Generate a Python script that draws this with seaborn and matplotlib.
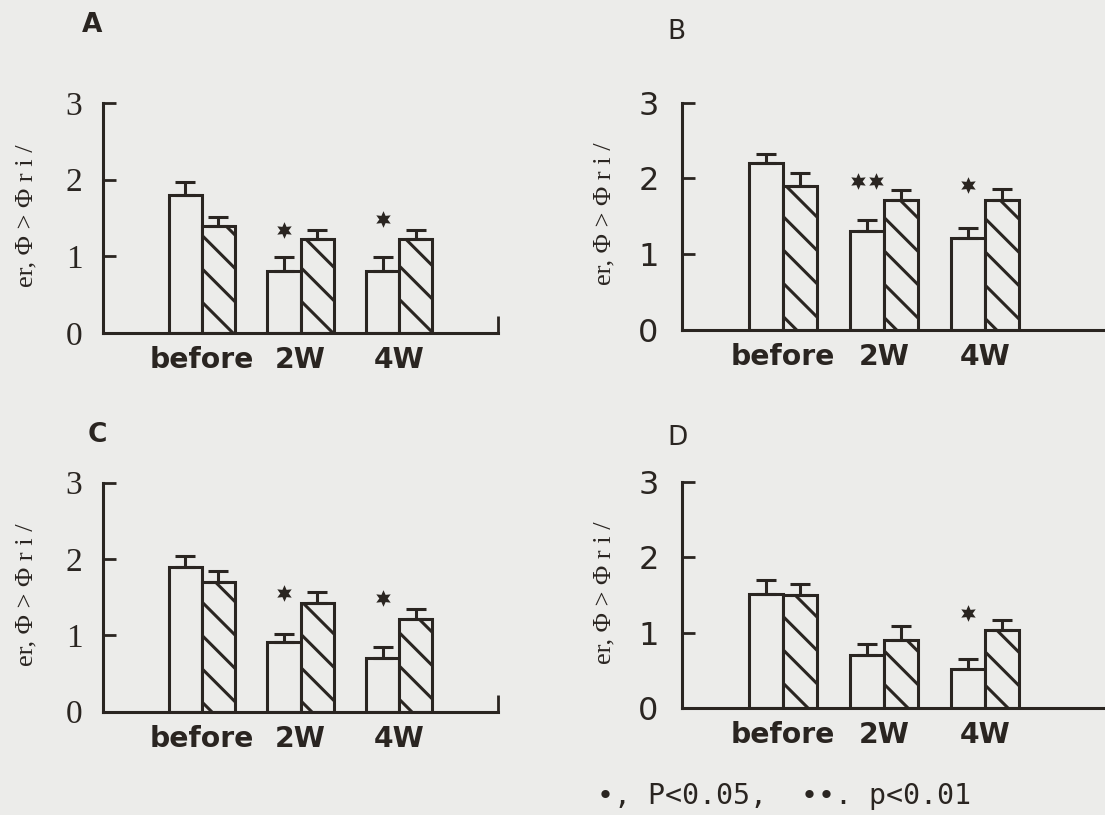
import numpy as np
import pandas as pd
import seaborn as sns
import matplotlib.pyplot as plt

# values
times = ["before", "2W", "4W"]
groups = ["group 1", "group 2"]          # open bars, hatched bars

mean_A1 = [1.80, 0.81, 0.81]
mean_A2 = [1.40, 1.22, 1.23]
err_A1 = [0.17, 0.18, 0.18]
err_A2 = [0.11, 0.12, 0.12]

mean_B1 = [2.20, 1.30, 1.21]
mean_B2 = [1.90, 1.71, 1.72]
err_B1 = [0.12, 0.15, 0.13]
err_B2 = [0.17, 0.14, 0.14]

mean_C1 = [1.90, 0.91, 0.71]
mean_C2 = [1.70, 1.42, 1.22]
err_C1 = [0.14, 0.11, 0.14]
err_C2 = [0.14, 0.15, 0.13]

mean_D1 = [1.52, 0.71, 0.52]
mean_D2 = [1.50, 0.90, 1.04]
err_D1 = [0.18, 0.14, 0.13]
err_D2 = [0.15, 0.19, 0.13]

# number of stars above the open bar, and their height
stars_A = [0, 1, 1]
star_y_A = [0, 1.35, 1.49]
stars_B = [0, 2, 1]
star_y_B = [0, 1.96, 1.91]
stars_C = [0, 1, 1]
star_y_C = [0, 1.55, 1.49]
stars_D = [0, 0, 1]
star_y_D = [0, 0, 1.26]

paper = "#ececea"
ink = "#2a2521"

sns.set_style("ticks")
plt.rcParams["hatch.color"] = ink
plt.rcParams["hatch.linewidth"] = 1.1
plt.rcParams["font.family"] = ["DejaVu Sans"]

fig = plt.figure(figsize=(5.525, 4.075), dpi=200, facecolor=paper)

panels = [
    ("A", mean_A1, mean_A2, err_A1, err_A2, stars_A, star_y_A,
     [0.0932, 0.5914, 0.3575, 0.2822], 3.0, "Liberation Serif", 12, 7.4),
    ("B", mean_B1, mean_B2, err_B1, err_B2, stars_B, star_y_B,
     [0.6172, 0.5951, 0.3860, 0.2789], 3.22, "DejaVu Sans", 11.5, 8.4),
    ("C", mean_C1, mean_C2, err_C1, err_C2, stars_C, star_y_C,
     [0.0932, 0.1267, 0.3575, 0.2810], 3.0, "Liberation Serif", 12, 7.4),
    ("D", mean_D1, mean_D2, err_D1, err_D2, stars_D, star_y_D,
     [0.6172, 0.1309, 0.3860, 0.2780], 3.22, "DejaVu Sans", 11.5, 8.4),
]

for name, m1, m2, e1, e2, nstar, sy, pos, xmax, tickfont, tsize, tpad in panels:
    ax = fig.add_axes(pos)
    ax.set_facecolor("none")
    df = pd.DataFrame({
        "time": times * 2,
        "group": [groups[0]] * 3 + [groups[1]] * 3,
        "value": m1 + m2,
    })
    sns.barplot(data=df, x="time", y="value", hue="group", order=times,
                hue_order=groups, palette=[paper, paper], edgecolor=ink,
                linewidth=1.1, width=0.67, errorbar=None, legend=False, ax=ax)

    for cont, errs in zip(ax.containers, [e1, e2]):
        xs = [p.get_x() + p.get_width() / 2 for p in cont]
        ys = [p.get_height() for p in cont]
        ax.errorbar(xs, ys, yerr=[np.zeros(3), errs], fmt="none", ecolor=ink,
                    elinewidth=1.1, capsize=3.6, capthick=1.1, zorder=3)
    for p in ax.containers[1]:
        p.set_hatch("\\\\")

    # significance stars over the open bars
    for p, n, y in zip(ax.containers[0], nstar, sy):
        xc = p.get_x() + p.get_width() / 2
        if n == 1:
            ax.plot([xc], [y], marker=(6, 1, 0), ms=6, color=ink, mew=0)
        elif n == 2:
            ax.plot([xc - 0.09, xc + 0.09], [y, y], ls="none", marker=(6, 1, 0),
                    ms=6, color=ink, mew=0)

    ax.set_xlim(-1, xmax)
    ax.set_ylim(0, 3)
    ax.set_yticks([0, 1, 2, 3])
    ax.set_xlabel("")
    ax.set_ylabel("")
    sns.despine(ax=ax)
    for s in ["left", "bottom"]:
        ax.spines[s].set_linewidth(1.1)
        ax.spines[s].set_color(ink)
    ax.tick_params(axis="y", direction="in", length=4.7, width=1.0, color=ink,
                   pad=tpad, labelsize=tsize, labelcolor=ink)
    for t in ax.get_yticklabels():
        t.set_fontfamily(tickfont)
    ax.tick_params(axis="x", length=0, pad=4.6, labelsize=10.2, labelcolor=ink)
    for t in ax.get_xticklabels():
        t.set_fontweight("bold")
    if xmax <= 3.0:
        ax.set_xticks([3], minor=True)
        ax.tick_params(axis="x", which="minor", direction="in", length=6,
                       width=1.0, color=ink)

    # garbled axis label of the scan
    lx = 0.024 if pos[0] < 0.5 else 0.547
    ly = pos[1] + pos[3] * 0.51
    fig.text(lx, ly, "er, Φ > Φ r i /", rotation=90, ha="center", va="center",
             fontsize=9.5, color=ink, family="Liberation Serif")

fig.text(92 / 1105, 1 - 25 / 815, "A", fontsize=9.5, fontweight="bold",
         color=ink, ha="center", va="center")
fig.text(676 / 1105, 1 - 32 / 815, "B", fontsize=9.5, color=ink,
         ha="center", va="center")
fig.text(97 / 1105, 1 - 435 / 815, "C", fontsize=9.5, fontweight="bold",
         color=ink, ha="center", va="center")
fig.text(678 / 1105, 1 - 438 / 815, "D", fontsize=9.5, color=ink,
         ha="center", va="center")

fig.text(597 / 1105, 1 - 796 / 815, "•, P<0.05,  ••. p<0.01", fontsize=10.2,
         color=ink, ha="left", va="center", family="DejaVu Sans Mono")

fig.savefig("out.png", dpi=200, facecolor=paper)
